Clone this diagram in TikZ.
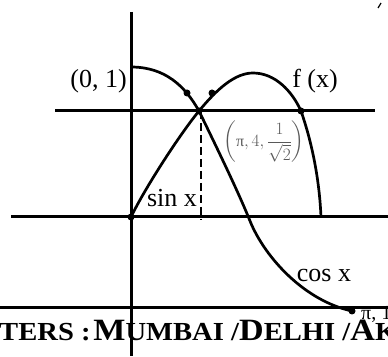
\documentclass[tikz,border=0pt]{standalone}
\usepackage{fontspec}
\setmainfont{Liberation Serif}
\usepackage{amsmath}
\usetikzlibrary{positioning,calc}

\newcommand{\bannerbig}[1]{{\fontsize{31}{31}\selectfont #1}}
\newcommand{\bannersmall}[1]{{\fontsize{26}{26}\selectfont #1}}

\begin{document}
\begin{tikzpicture}[x=1pt, y=1pt,
		axis/.style={line width=3pt, black},
		curve/.style={line width=2.7pt, black},
		guide/.style={line width=2.7pt, dash pattern=on 8pt off 4pt},
		dot/.style={circle, fill=black, inner sep=0pt, minimum size=7pt},
		lbl/.style={font=\fontsize{26}{28}\selectfont, inner sep=0pt},
		graylbl/.style={font=\fontsize{16}{18}\selectfont, text=black!65, inner sep=0pt},
		banner/.style={font=\bfseries, inner sep=0pt, anchor=base west}
	]
	\useasboundingbox (0,0) rectangle (388,356);
	
	% banner text at the bottom
	\node[banner] (banner) at (-1,16) {\scalebox{1.1}[1]{\bannersmall{TERS :} \bannerbig{M}\bannersmall{UMBAI /}\bannerbig{D}\bannersmall{ELHI /}\bannerbig{A}\bannersmall{K}}};
	
	% axis and the three horizontal lines
	\coordinate (yTop) at (131,344);
	\coordinate (yBot) at (131,0);
	\coordinate (hiL) at (55,245);
	\coordinate (hiR) at (375,245);
	\coordinate (midL) at (11,139);
	\coordinate (midR) at (388,139);
	\coordinate (loL) at (0,48);
	\coordinate (loR) at (388,48);
	\draw[axis] (yTop) -- (yBot);
	\draw[axis] (hiL) -- (hiR);
	\draw[axis] (midL) -- (midR);
	\draw[axis] (loL) -- (loR);
	
	% points on the curves
	\coordinate (cosStart) at (131,289);
	\coordinate (sinEnd) at (321,139);
	\node[dot] (O) at (131,139) {};
	\node[dot] (P) at (199,245) {};
	\node[dot] (A) at (187,263) {};
	\node[dot] (B) at (212,263) {};
	\node[dot] (C) at (301,245) {};
	\node[dot] (E) at (352,45) {};
	
	% cos x
	\draw[curve] (cosStart) .. controls (165,289) and (185,270) .. (P.center)
		.. controls (215,212) and (238,165) .. (250,135)
		.. controls (265,98) and (305,55) .. (E.center);
	
	% sin x and f(x)
	\draw[curve] (O.center) .. controls (145,168) and (180,222) .. (P.center)
		.. controls (217,267) and (235,283) .. (253,283)
		.. controls (275,283) and (292,265) .. (C.center)
		.. controls (309,222) and (319,185) .. (sinEnd);
	
	% dashed drop from the crossing
	\coordinate (dropTop) at (201,245);
	\coordinate (dropBot) at (201,136);
	\draw[guide] (dropTop) -- (dropBot);
	
	% small mark in the corner
	\coordinate (markA) at (381,353);
	\coordinate (markB) at (378,348);
	\draw[line width=1.2pt] (markA) -- (markB);
	
	% labels
	\node[lbl, anchor=east] (origin) at (127,275) {(0, 1)};
	\node[lbl] (fx) at (315,275) {f (x)};
	\node[lbl] (sinx) at (172,158) {sin x};
	\node[lbl] (cosx) at (324,80) {cos x};
	\node[graylbl] (cross) at (264,214) {$\left(\text{π},4,\dfrac{1}{\sqrt{2}}\right)$};
	\node[font=\fontsize{20}{22}\selectfont, inner sep=0pt, anchor=base west] (piend) at (361,36) {π, 1};
\end{tikzpicture}
\end{document}
